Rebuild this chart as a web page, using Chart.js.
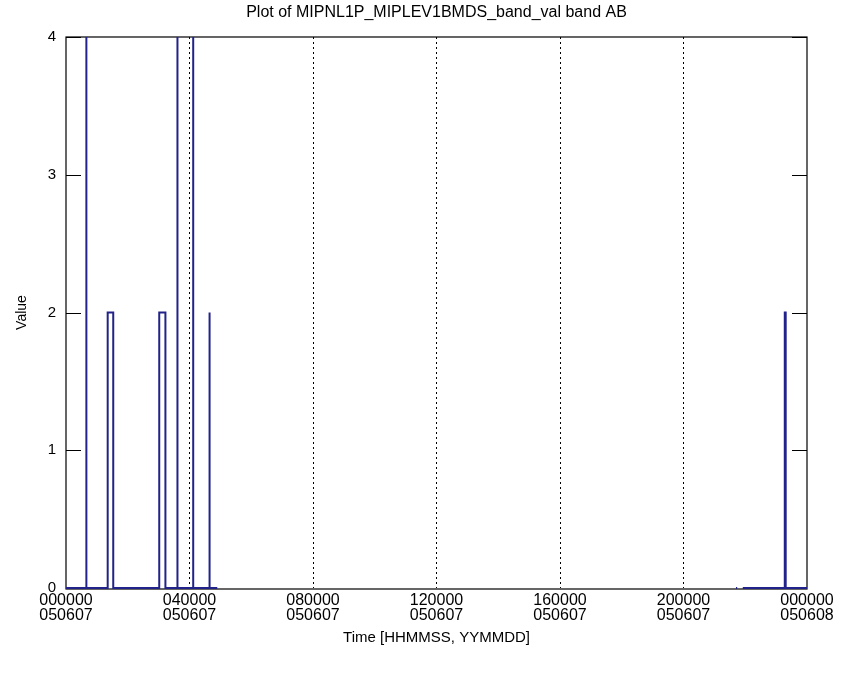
<!DOCTYPE html>
<html>
<head>
<meta charset="utf-8">
<title>MIPNL1P band AB</title>
<script src="https://cdn.jsdelivr.net/npm/chart.js@4.4.1/dist/chart.umd.min.js"></script>
<style>
    html, body { margin: 0; padding: 0; background: #ffffff; }
    #chart-wrap { width: 857px; height: 675px; }
</style>
</head>
<body>
<div id="chart-wrap"><canvas id="band-chart" width="857" height="675"></canvas></div>
<script>
// Samples: time in hours since 000000 050607, value; null = data gap
const sampleHours = [0.00, 0.66, 0.66, 0.66, 1.35, 1.35, 1.53, 1.53, 3.02, 3.02, 3.22, 3.22,
    3.61, 3.61, 3.61, 4.12, 4.12, 4.12, 4.65, 4.65, 4.65, 4.90, null, 21.70, 21.74, null,
    21.92, 23.28, 23.28, 23.31, 23.31, 24.00];
const sampleValues = [0, 0, 4, 0, 0, 2, 2, 0, 0, 2, 2, 0,
    0, 4, 0, 0, 4, 0, 0, 2, 0, 0, null, 0, 0, null,
    0, 0, 2, 2, 0, 0];

const xTickHours = [0, 4, 8, 12, 16, 20, 24];
const xTickTimes = ['000000', '040000', '080000', '120000', '160000', '200000', '000000'];
const xTickDates = ['050607', '050607', '050607', '050607', '050607', '050607', '050608'];
const yTicks = [0, 1, 2, 3, 4];

const TITLE = 'Plot of MIPNL1P_MIPLEV1BMDS_band_val band AB';
const FONT = 'Liberation Sans, Arial, sans-serif';

function buildPoints() {
    return sampleHours.map((h, i) => h === null ? { x: NaN, y: null } : { x: h, y: sampleValues[i] });
}

// white background, frame, inward y tick marks and a title centred over the plot
const framePlugin = {
    id: 'frame',
    beforeDraw(chart) {
        const ctx = chart.ctx;
        ctx.save();
        ctx.fillStyle = '#ffffff';
        ctx.fillRect(0, 0, chart.width, chart.height);
        ctx.restore();
    },
    beforeDatasetsDraw(chart) {
        const { ctx, chartArea: a } = chart;
        const yScale = chart.scales.y;
        ctx.save();
        ctx.strokeStyle = '#000000';
        ctx.lineWidth = 1.2;
        ctx.strokeRect(a.left, a.top, a.right - a.left, a.bottom - a.top + 1);
        yTicks.forEach(v => {
            const y = Math.round(yScale.getPixelForValue(v)) + 0.5;
            ctx.beginPath();
            ctx.moveTo(a.left, y);
            ctx.lineTo(a.left + 15, y);
            ctx.moveTo(a.right, y);
            ctx.lineTo(a.right - 15, y);
            ctx.stroke();
        });
        ctx.fillStyle = '#000000';
        ctx.font = '16px ' + FONT;
        ctx.textAlign = 'center';
        ctx.textBaseline = 'middle';
        ctx.fillText(TITLE, (a.left + a.right) / 2, 13);
        ctx.restore();
    }
};

function renderChart() {
    const ctx = document.getElementById('band-chart').getContext('2d');
    new Chart(ctx, {
        type: 'line',
        data: {
            datasets: [{
                data: buildPoints(),
                borderColor: '#22238a',
                borderWidth: 2,
                pointRadius: 0,
                spanGaps: false,
                tension: 0,
                clip: { left: 2, top: 0, right: 2, bottom: 2 }
            }]
        },
        options: {
            responsive: false,
            animation: false,
            layout: { padding: { left: 14, right: 50, top: 37, bottom: 28 } },
            plugins: {
                legend: { display: false },
                tooltip: { enabled: false },
                title: { display: false }
            },
            scales: {
                x: {
                    type: 'linear',
                    min: 0,
                    max: 24,
                    afterBuildTicks: scale => { scale.ticks = xTickHours.map(v => ({ value: v })); },
                    afterFit: scale => { scale.height = 59; },
                    grid: {
                        color: c => (c.tick && (c.tick.value === 0 || c.tick.value === 24)) ? 'rgba(0,0,0,0)' : '#000000',
                        lineWidth: 1,
                        drawTicks: false
                    },
                    border: { display: false, dash: [2, 3] },
                    ticks: {
                        color: '#000000',
                        padding: 5,
                        maxRotation: 0,
                        autoSkip: false,
                        font: { family: FONT, size: 16, lineHeight: 0.95 },
                        callback: value => {
                            const i = xTickHours.indexOf(value);
                            return i < 0 ? '' : [xTickTimes[i], xTickDates[i]];
                        }
                    },
                    title: {
                        display: true,
                        text: 'Time [HHMMSS, YYMMDD]',
                        color: '#000000',
                        font: { family: FONT, size: 15 },
                        padding: { top: 0, bottom: 0 }
                    }
                },
                y: {
                    min: 0,
                    max: 4,
                    afterBuildTicks: scale => { scale.ticks = yTicks.map(v => ({ value: v })); },
                    afterFit: scale => { scale.width = 52; },
                    grid: { display: false, drawTicks: false },
                    border: { display: false },
                    ticks: {
                        color: '#000000',
                        padding: 10,
                        font: { family: FONT, size: 15 }
                    },
                    title: {
                        display: true,
                        text: 'Value',
                        color: '#000000',
                        font: { family: FONT, size: 14 },
                        padding: { top: 0, bottom: 0 }
                    }
                }
            }
        },
        plugins: [framePlugin]
    });
}

renderChart();
</script>
</body>
</html>
